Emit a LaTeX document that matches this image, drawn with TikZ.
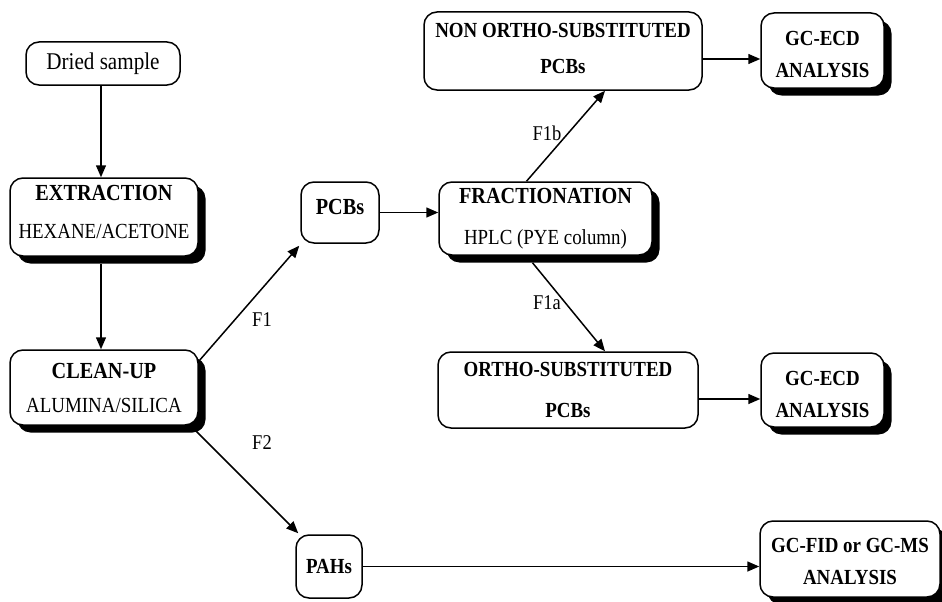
\documentclass[tikz,border=0pt]{standalone}
\usepackage{fontspec}
\setmainfont{Liberation Serif}[FakeStretch=0.88]
\usetikzlibrary{shadows,arrows.meta,calc}
\newcommand\myttl[1]{{\fontsize{23}{22}\selectfont\bfseries #1}}
\newcommand\mybld[1]{{\fontsize{21.5}{22}\selectfont\bfseries #1}}
\newcommand\mysub[1]{{\fontsize{21.5}{22}\selectfont #1}}
\newcommand\myhi[1]{\rule{0pt}{#1}}
\newcommand\mylo[1]{\rule[-#1]{0pt}{#1}}
\begin{document}
\begin{tikzpicture}[x=1pt,y=-1pt,
  box/.style={draw,line width=1.5pt,rounded corners=13pt,fill=white,align=center,inner sep=0pt,
    font=\fontsize{19}{22}\selectfont},
  sbox/.style={box,drop shadow={shadow xshift=7.5pt,shadow yshift=-7.5pt,fill=black,opacity=1}},
  arr/.style={-{Triangle[length=12pt,width=10pt]},line width=1.5pt},
  lab/.style={font=\fontsize{21}{22}\selectfont,inner sep=0pt}
]
\useasboundingbox[fill=white] (0,0) rectangle (942,602);

\node[box,minimum width=154pt,minimum height=43pt] (dried) at (103,63.5)
  {{\fontsize{24}{22}\selectfont Dried sample}};
\node[sbox,minimum width=188pt,minimum height=78pt] (extraction) at (104,217)
  {\myttl{EXTRACTION}\\[16pt]\mysub{HEXANE/ACETONE}\mylo{11pt}};
\node[sbox,minimum width=188pt,minimum height=75pt] (cleanup) at (104,387.5)
  {\myttl{CLEAN-UP}\\[12pt]\mysub{ALUMINA/SILICA}};
\node[box,minimum width=78pt,minimum height=61pt] (pcbs) at (340,212.5)
  {\myttl{PCBs}\mylo{12pt}};
\node[sbox,minimum width=213pt,minimum height=73pt] (fraction) at (545.5,218.5)
  {\myttl{FRACTIONATION}\\[19pt]\mysub{HPLC (PYE column)}};
\node[box,minimum width=278pt,minimum height=78pt] (nonortho) at (563,51)
  {\mybld{NON ORTHO-SUBSTITUTED}\\[14pt]\mybld{PCBs}\mylo{5pt}};
\node[sbox,minimum width=123pt,minimum height=75pt] (gcecdA) at (822.5,50.5)
  {\myhi{23pt}\mybld{GC-ECD}\\[10pt]\mybld{ANALYSIS}};
\node[box,minimum width=260pt,minimum height=76pt] (ortho) at (568,390)
  {\mybld{ORTHO-SUBSTITUTED}\\[19pt]\mybld{PCBs}};
\node[sbox,minimum width=123pt,minimum height=74pt] (gcecdB) at (822.5,390)
  {\myhi{23pt}\mybld{GC-ECD}\\[10pt]\mybld{ANALYSIS}};
\node[box,minimum width=66pt,minimum height=63pt] (pahs) at (329,566.5)
  {\mybld{PAHs}};
\node[sbox,minimum width=180pt,minimum height=76pt] (gcfid) at (850,559)
  {\myhi{19pt}\mybld{GC-FID or GC-MS}\\[10pt]\mybld{ANALYSIS}};

\node[lab] (f1) at (262,320) {F1};
\node[lab] (f2) at (262,443) {F2};
\node[lab] (f1b) at (547,133) {F1b};
\node[lab] (f1a) at (547,303) {F1a};

\coordinate (na) at ($(nonortho.east)+(0,8)$);
\coordinate (oa) at ($(ortho.east)+(0,9)$);
\draw[arr] ([xshift=-2pt]dried.south) -- ([xshift=-2pt]dried.south |- extraction.north);
\draw[arr] ([xshift=-3pt,yshift=-7pt]extraction.south) -- ([xshift=-3pt]extraction.south |- cleanup.north);
\draw[arr] ($(cleanup.north east)+(0,12)$) -- ($(pcbs.south west)+(-1,2)$);
\draw[arr] ($(cleanup.south east)+(-3,5)$) -- ($(pahs.north west)+(3,-1)$);
\draw[arr] (pcbs.east) -- (pcbs.east -| fraction.west);
\draw[arr] ($(fraction.north)+(-19,0)$) -- ($(nonortho.south)+(42,0)$);
\draw[arr] ($(fraction.south)+(-13,7)$) -- ($(ortho.north)+(37,0)$);
\draw[arr] (na) -- (na -| gcecdA.west);
\draw[arr] (oa) -- (oa -| gcecdB.west);
\draw[arr] (pahs.east) -- (pahs.east -| gcfid.west);
\end{tikzpicture}
\end{document}
